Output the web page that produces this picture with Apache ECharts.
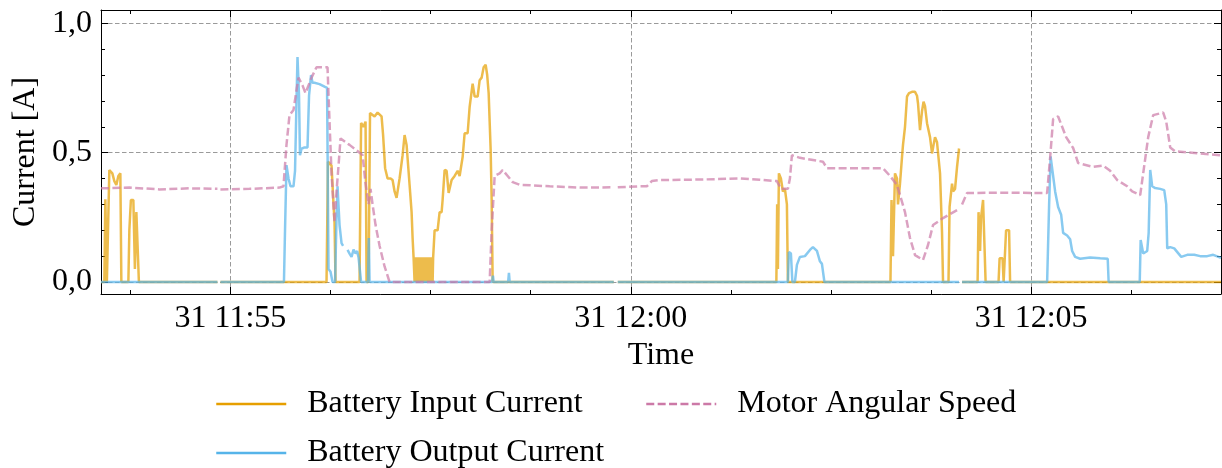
<!DOCTYPE html>
<html><head><meta charset="utf-8">
<script src="https://cdn.jsdelivr.net/npm/echarts@6/dist/echarts.min.js"></script>
<style>html,body{margin:0;padding:0;background:#fff}#c{width:1222px;height:468px}</style>
</head><body><div id="c"></div>
<script>
// Time in seconds relative to "31 11:55:00"; null marks a gap in the record
const xMin = -97, xMax = 742.3;
const xTickValues = [0, 300, 600];
const xTickLabels = ['31 11:55', '31 12:00', '31 12:05'];
const xMinorTicks = [-75, 75, 150, 225, 375, 450, 525, 675];
const yMin = -0.0464, yMax = 1.0514;
const yTickValues = [0, 0.5, 1.0];
const yTickLabels = ['0,0', '0,5', '1,0'];
const yMinorTicks = [0.1, 0.2, 0.3, 0.4, 0.6, 0.7, 0.8, 0.9];
const seriesNames = ['Battery Input Current', 'Battery Output Current', 'Motor Angular Speed'];

const inputTime = [-97, -94.5, -93.75, -92.6, -91.5, -90.75, -88.5, -87, -85.5, -84, -82.5, -81.75, -76.5, -75.75, -74.6, -72.75, -71.6, -70.5, -69.4, -68.6, -9.75, -9, -7.5,
  72, 73.1, 75.75, 77.25, 78, 78.75, 96.75, 97.9, 99.75, 101.25, 102, 103.5, 104.6, 108, 110.25, 113.25, 114.4, 115.9, 117.75, 120, 121.5, 123, 124.5, 126.75, 129, 130.5, 132, 134.25, 135.75, 136.5,
  137.25, 138, 138.75, 139.5, 140.25, 141, 141.75, 142.5, 143.25, 144, 144.75, 145.5, 146.25, 147, 147.75, 148.5, 149.25, 150, 150.75, 151.5,
  151.9, 153, 155.25, 156.75, 158.25, 159, 160.5, 162, 163.5, 164.25, 165.75, 168, 170.25, 171.75, 174, 175.5, 177.75, 179.25, 181.5, 183, 185.25, 186.75, 188.25, 189.75, 191.25, 192.4, 193.5, 195, 195.75, 196.5,
  287.25, 289, 290.25, 409.1, 409.7, 410.25, 411, 412.5, 414, 415.5, 417, 417.75,
  494.6, 495.4, 496.5, 498, 499.5, 500.25, 501.75, 503.25, 504, 505.5, 507, 508.5, 510.75, 513, 514.5, 515.25, 516.75, 518.25, 519.4, 520.5, 522, 524.25, 525.75, 526.9, 528, 529.5, 531.75, 533.25, 534,
  538.1, 538.9, 540.75, 541.5, 543, 544.5, 546, 547, 548.25, 559.9, 560.6, 561.75, 562.5, 564, 565.1, 565.9, 575.6, 576.4, 578.6, 579.4, 580.5, 581.25, 583.5, 584.25, 742.3];
const inputCurrent = [0, 0, 0.32, 0, 0, 0.433, 0.42, 0.39, 0.375, 0.41, 0.42, 0, 0, 0.2, 0.317, 0.317, 0.05, 0.27, 0.27, 0, 0, null, 0,
  0, 0.465, 0.45, 0.3, 0.23, 0, 0, 0.615, 0.6, 0.62, 0, 0, 0.653, 0.64, 0.655, 0.64, 0.568, 0.44, 0.40, 0.40, 0.394, 0.35, 0.325, 0.40, 0.49, 0.568, 0.53, 0.375, 0.27, 0.17,
  0.093, 0, 0.095, 0, 0.095, 0, 0.095, 0, 0.095, 0, 0.095, 0, 0.095, 0, 0.095, 0, 0.095, 0, 0.095, 0,
  0.095, 0.2, 0.2, 0.27, 0.27, 0.317, 0.433, 0.43, 0.344, 0.35, 0.394, 0.41, 0.43, 0.41, 0.483, 0.575, 0.575, 0.677, 0.767, 0.717, 0.717, 0.78, 0.79, 0.83, 0.84, 0.8, 0.73, 0.51, 0.317, 0,
  0, null, 0, 0, 0.3, 0.05, 0.42, 0.40, 0.35, 0.36, 0.30, 0,
  0, 0.317, 0.1, 0.42, 0.4, 0.3, 0.38, 0.483, 0.53, 0.6, 0.717, 0.73, 0.735, 0.735, 0.72, 0.69, 0.587, 0.66, 0.697, 0.68, 0.614, 0.56, 0.497, 0.53, 0.56, 0.54, 0.42, 0.19, 0,
  0, 0.29, 0.38, 0.35, 0.36, 0.445, 0.516, null, 0, 0, 0.27, 0.12, 0.25, 0.317, 0.31, 0, 0, 0.092, 0.092, 0, 0, 0.2, 0.2, 0, 0];

const outputTime = [-97, -9.75, -9, -7.5, 40.1, 40.9, 42, 43.5, 45, 47.25, 48.4, 49.5, 50.25, 51.4, 52.1, 53.25, 55.5, 57.75, 58.9, 60.4, 61.5, 63, 66.75, 70.5, 72.4, 73.5, 75, 76.5, 78.4, 79.5, 80.25, 81.75, 83.25, 84.4, 86,
  87.75, 89.25, 90.75, 92.25, 93.75, 94.9, 96, 97.1, 97.9, 103.1, 103.7, 104.25, 196.1, 196.7, 197.25, 208.1, 208.7, 209.25, 287.25, 289, 290.25,
  417.75, 418.5, 420, 421.1, 423, 424.5, 426.75, 430.5, 434.25, 436.5, 439.5, 441.75, 443.25, 444.4, 445.1, 546, 547, 548.25,
  612, 613.5, 614.6, 616.5, 618, 620.25, 622.5, 624, 627, 629.25, 630.75, 633, 636.75, 644.25, 651.75, 657.4, 658.1,
  681.4, 682.1, 684, 687, 688.1, 689.25, 690.75, 693, 696.75, 699.75, 701.25, 702, 704.25, 707.25, 712.5, 717, 722.25, 726.75, 732, 736.5, 742.3];
const outputCurrent = [0, 0, null, 0, 0, 0.2, 0.452, 0.40, 0.37, 0.37, 0.43, 0.70, 0.87, 0.72, 0.49, 0.515, 0.52, 0.52, 0.72, 0.80, 0.77, 0.77, 0.765, 0.755, 0.75, 0.05, 0.04, 0, 0, 0.25, 0.37, 0.22, 0.15, 0.14, null,
  0.124, 0.11, 0.097, 0.125, 0.11, 0.12, 0.095, 0.09, 0, 0, 0.17, 0, 0, 0.025, 0, 0, 0.035, 0, 0, null, 0,
  0, 0.116, 0.11, 0, 0, 0.066, 0.097, 0.10, 0.124, 0.135, 0.12, 0.08, 0.07, 0.075, 0, 0, null, 0,
  0, 0.3, 0.485, 0.41, 0.35, 0.29, 0.26, 0.19, 0.18, 0.165, 0.12, 0.097, 0.09, 0.095, 0.092, 0.09, 0,
  0, 0.162, 0.11, 0.12, 0.19, 0.433, 0.37, 0.363, 0.36, 0.355, 0.3, 0.13, 0.135, 0.13, 0.097, 0.105, 0.105, 0.1, 0.1, 0.105, 0.093];

const speedTime = [-97, -75.75, -53.25, -30.75, -9.75, -9, -7.5, 14.25, 36.75, 39.75, 42, 44.25, 47.25, 49.75, 51, 54, 56.25, 58.5, 60.75, 64.5, 72.75, 74.25, 75.75, 78, 79.5, 81, 82.5, 89.25, 96.75, 99, 101.25, 103.5, 105, 106.5, 108.75, 111.75, 115.5, 119.25,
  194.25, 195.75, 198, 201.75, 204, 207.75, 211.5, 216.75, 239.25, 261.75, 287.25, 289, 290.25, 306.75, 312, 315.75, 321.75, 351.75, 381.75, 396.75, 409.5, 412.5, 417.75, 419.25, 420.75, 426.75, 444, 447, 471.75, 489,
  494.25, 499.5, 501.75, 505.5, 509.25, 513, 519, 522.75, 526.5, 534, 544.5, 547, 548.25, 552, 576.75, 612, 614.25, 616.5, 620.25, 623.25, 626.25, 631.5, 635.25, 646.5, 654, 659.25, 664.5, 672, 675.75, 681.75,
  684, 687.75, 691.5, 699, 701.25, 704.25, 708, 726.75, 742.3];
const speedValue = [0.362, 0.365, 0.358, 0.362, 0.36, null, 0.358, 0.36, 0.365, 0.37, 0.53, 0.645, 0.665, 0.75, 0.79, 0.76, 0.73, 0.76, 0.79, 0.83, 0.83, 0.62, 0.42, 0.23, 0.35, 0.45, 0.555, 0.53, 0.50, 0.49, 0.38, 0.30, 0.36, 0.30, 0.22, 0.14, 0.06, 0,
  0, 0.2, 0.41, 0.42, 0.433, 0.41, 0.386, 0.376, 0.37, 0.365, 0.366, null, 0.366, 0.37, 0.37, 0.39, 0.394, 0.396, 0.40, 0.395, 0.39, 0.36, 0.36, 0.40, 0.49, 0.48, 0.465, 0.44, 0.44, 0.44,
  0.41, 0.375, 0.336, 0.27, 0.17, 0.104, 0.085, 0.143, 0.22, 0.247, 0.278, null, 0.3, 0.344, 0.345, 0.344, 0.48, 0.63, 0.64, 0.60, 0.56, 0.518, 0.46, 0.445, 0.45, 0.43, 0.394, 0.37, 0.35, 0.336,
  0.42, 0.56, 0.645, 0.655, 0.62, 0.52, 0.505, 0.497, 0.49];

const FONT = '"Liberation Serif", "Times New Roman", serif';
const FS = 32;
const DASH = [8, 3.4];
const pairs = (t, v) => t.map((x, i) => [x, v[i] === null ? '-' : v[i]]);
const fmt = (vals, labels) => (v) => { const i = vals.findIndex(a => Math.abs(a - v) < 1e-6); return i >= 0 ? labels[i] : ''; };

const gridLine = { show: true, lineStyle: { color: '#9a9a9a', type: [4.5, 2.5], width: 1 } };
function xAx(pos, major, withLabel) {
  const a = {
    type: 'value', min: xMin, max: xMax, position: pos,
    axisLine: { show: major, onZero: false, lineStyle: { color: '#000', width: 1 } },
    axisTick: { show: true, inside: true, length: major ? 7 : 4, customValues: major ? xTickValues : xMinorTicks, lineStyle: { color: '#000', width: 1 } },
    axisLabel: withLabel ? { show: true, customValues: xTickValues, formatter: fmt(xTickValues, xTickLabels), fontFamily: FONT, fontSize: FS, color: '#000', margin: 9 } : { show: false },
    splitLine: withLabel ? gridLine : { show: false },
  };
  if (withLabel) { a.name = 'Time'; a.nameLocation = 'middle'; a.nameGap = 45; a.nameTextStyle = { fontFamily: FONT, fontSize: FS, color: '#000' }; }
  return a;
}
function yAx(pos, major, withLabel) {
  const a = {
    type: 'value', min: yMin, max: yMax, position: pos,
    axisLine: { show: major, onZero: false, lineStyle: { color: '#000', width: 1 } },
    axisTick: { show: true, inside: true, length: major ? 7 : 4, customValues: major ? yTickValues : yMinorTicks, lineStyle: { color: '#000', width: 1 } },
    axisLabel: withLabel ? { show: true, customValues: yTickValues, formatter: fmt(yTickValues, yTickLabels), fontFamily: FONT, fontSize: FS, color: '#000', margin: 9, padding: [6, 0, 0, 0] } : { show: false },
    splitLine: withLabel ? gridLine : { show: false },
  };
  if (withLabel) { a.name = 'Current [A]'; a.nameLocation = 'middle'; a.nameGap = 51; a.nameTextStyle = { fontFamily: FONT, fontSize: FS, color: '#000' }; }
  return a;
}

const colors = ['#E69F00', '#56B4E9', '#CC79A7'];
const mkSeries = (name, data, color, dashed) => ({
  name, type: 'line', data, xAxisIndex: 0, yAxisIndex: 0,
  showSymbol: false, symbol: 'none', connectNulls: false, animation: false, sampling: null,
  lineStyle: { color, width: 2.5, opacity: 0.7, type: dashed ? DASH : 'solid' },
  itemStyle: { color }, emphasis: { disabled: true },
});
const legendBase = (name, color, dashed, left, top) => ({
  data: [name], left, top, padding: 0, itemWidth: 70, itemHeight: 14, selectedMode: false,
  lineStyle: { color, opacity: 1, width: 2.5, type: dashed ? DASH : 'solid' },
  itemStyle: { color: 'rgba(0,0,0,0)', borderColor: 'rgba(0,0,0,0)', borderWidth: 0, opacity: 0 },
  textStyle: { fontFamily: FONT, fontSize: FS, color: '#000', padding: [0, 0, 0, 16] },
});

const chart = echarts.init(document.getElementById('c'), null, { renderer: 'canvas' });
chart.setOption({
  backgroundColor: '#fff',
  animation: false,
  grid: { left: 101, right: 1, top: 10, bottom: 174, containLabel: false },
  xAxis: [xAx('bottom', true, true), xAx('bottom', false, false), xAx('top', true, false), xAx('top', false, false)],
  yAxis: [yAx('left', true, true), yAx('left', false, false), yAx('right', true, false), yAx('right', false, false)],
  legend: [
    legendBase(seriesNames[0], colors[0], false, 215, 388),
    legendBase(seriesNames[1], colors[1], false, 215, 437),
    legendBase(seriesNames[2], colors[2], true, 645, 388),
  ],
  series: [
    mkSeries(seriesNames[0], pairs(inputTime, inputCurrent), colors[0], false),
    mkSeries(seriesNames[1], pairs(outputTime, outputCurrent), colors[1], false),
    mkSeries(seriesNames[2], pairs(speedTime, speedValue), colors[2], true),
  ],
});
</script></body></html>
